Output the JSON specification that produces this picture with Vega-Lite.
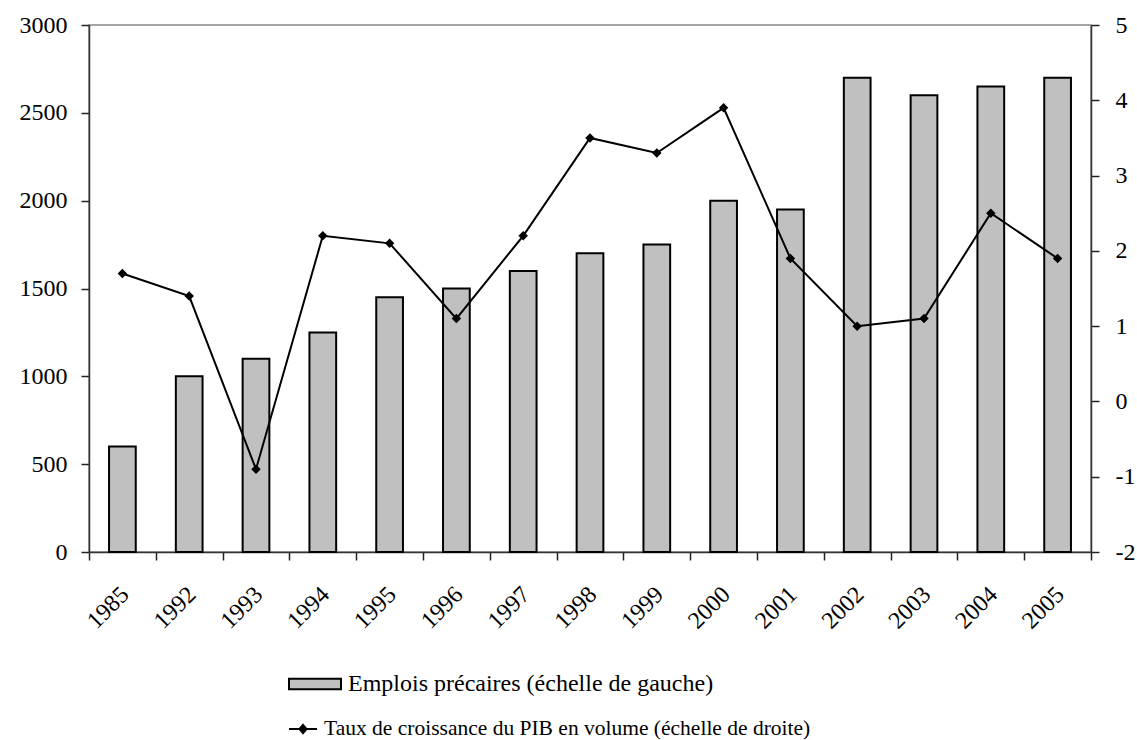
{
  "$schema": "https://vega.github.io/schema/vega-lite/v6.json",
  "width": 1002,
  "height": 527,
  "autosize": {"type": "none"},
  "padding": {"left": 89, "top": 25, "right": 46, "bottom": 188},
  "background": "white",
  "config": {
    "font": "Liberation Serif",
    "view": {"stroke": "#888888", "strokeWidth": 1.5},
    "axis": {
      "labelFont": "Liberation Serif",
      "labelFontSize": 24,
      "labelColor": "black",
      "domainColor": "#333333",
      "domainWidth": 1.5,
      "tickColor": "#222222",
      "tickWidth": 1.5,
      "tickSize": 8,
      "grid": false,
      "title": null
    }
  },
  "data": {
    "values": [
      {"year": "1985", "emplois": 600, "pib": 1.7},
      {"year": "1992", "emplois": 1000, "pib": 1.4},
      {"year": "1993", "emplois": 1100, "pib": -0.9},
      {"year": "1994", "emplois": 1250, "pib": 2.2},
      {"year": "1995", "emplois": 1450, "pib": 2.1},
      {"year": "1996", "emplois": 1500, "pib": 1.1},
      {"year": "1997", "emplois": 1600, "pib": 2.2},
      {"year": "1998", "emplois": 1700, "pib": 3.5},
      {"year": "1999", "emplois": 1750, "pib": 3.3},
      {"year": "2000", "emplois": 2000, "pib": 3.9},
      {"year": "2001", "emplois": 1950, "pib": 1.9},
      {"year": "2002", "emplois": 2700, "pib": 1.0},
      {"year": "2003", "emplois": 2600, "pib": 1.1},
      {"year": "2004", "emplois": 2650, "pib": 2.5},
      {"year": "2005", "emplois": 2700, "pib": 1.9}
    ]
  },
  "encoding": {
    "x": {
      "field": "year",
      "type": "ordinal",
      "scale": {"paddingInner": 0, "paddingOuter": 0},
      "axis": {"labelAngle": -45, "tickBand": "extent", "labelPadding": 22, "labelOffset": -6, "title": null}
    }
  },
  "layer": [
    {
      "mark": {"type": "bar", "stroke": "black", "strokeWidth": 2, "width": {"band": 0.4}},
      "encoding": {
        "y": {
          "field": "emplois",
          "type": "quantitative",
          "scale": {"domain": [0, 3000]},
          "axis": {"orient": "left", "values": [0, 500, 1000, 1500, 2000, 2500, 3000], "format": "d", "labelPadding": 14, "title": null}
        },
        "fill": {
          "datum": "Emplois précaires (échelle de gauche)",
          "type": "nominal",
          "scale": {"range": ["#c0c0c0"]},
          "legend": {
            "orient": "none",
            "legendX": 199,
            "legendY": 632,
            "title": null,
            "symbolType": "M-1,-0.2H1V0.2H-1Z",
            "symbolSize": 2704,
            "symbolStrokeColor": "black",
            "symbolStrokeWidth": 2,
            "labelFont": "Liberation Serif",
            "labelFontSize": 24,
            "labelColor": "black",
            "labelOffset": 6,
            "labelLimit": 800
          }
        }
      }
    },
    {
      "encoding": {
        "y": {
          "field": "pib",
          "type": "quantitative",
          "scale": {"domain": [-2, 5]},
          "axis": {"orient": "right", "values": [-2, -1, 0, 1, 2, 3, 4, 5], "labelExpr": "datum.value < 0 ? '-' + abs(datum.value) : '' + datum.value", "labelPadding": 16, "title": null}
        }
      },
      "layer": [
        {
          "mark": {"type": "line", "strokeWidth": 2},
          "encoding": {
            "stroke": {
              "datum": "Taux de croissance du PIB en volume (échelle de droite)",
              "type": "nominal",
              "scale": {"range": ["black"]},
              "legend": {
                "orient": "none",
                "legendX": 199,
                "legendY": 689,
                "title": null,
                "symbolType": "M-1,0H1M0,-0.3L0.25,0L0,0.3L-0.25,0Z",
                "symbolSize": 784,
                "symbolStrokeColor": "black",
                "symbolFillColor": "black",
                "symbolStrokeWidth": 2,
                "labelFont": "Liberation Serif",
                "labelFontSize": 21.5,
                "labelColor": "black",
                "labelOffset": 6,
                "labelLimit": 800
              }
            }
          }
        },
        {
          "mark": {"type": "point", "shape": "diamond", "filled": true, "color": "black", "size": 90, "opacity": 1},
          "encoding": {}
        }
      ]
    }
  ],
  "resolve": {"scale": {"y": "independent"}}
}
